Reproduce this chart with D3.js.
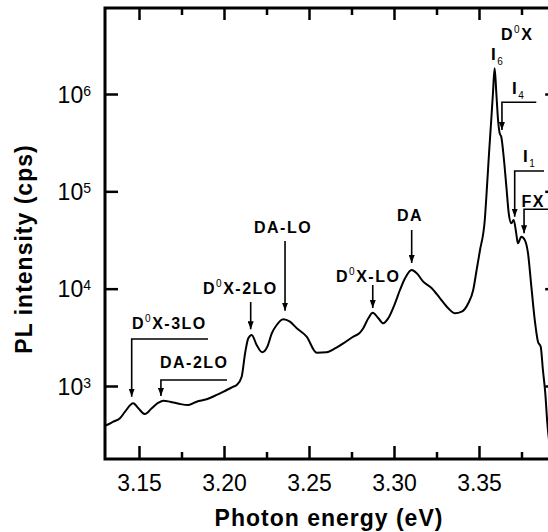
<!DOCTYPE html>
<html>
<head>
<meta charset="utf-8">
<script src="https://cdnjs.cloudflare.com/ajax/libs/d3/7.8.5/d3.min.js"></script>
<style>
  body { margin: 0; background: #fff; }
  svg { display: block; font-family: "Liberation Sans", Arial, sans-serif; }
  .tick text { font-size: 23px; fill: #000; }
  .anno { font-size: 16px; font-weight: bold; letter-spacing: 1.5px; }
</style>
</head>
<body>
<div id="chart"></div>
<script>
// spectrum: photon energy (eV) and PL intensity (cps)
var energy = [3.1300, 3.1310, 3.1349, 3.1388, 3.1418, 3.1466, 3.1496, 3.1535, 3.1575, 3.1614,
  3.1643, 3.1682, 3.1741, 3.1790, 3.1839, 3.1898, 3.1957, 3.2016, 3.2055, 3.2075,
  3.2104, 3.2124, 3.2143, 3.2163, 3.2192, 3.2225, 3.2255, 3.2281, 3.2310, 3.2349,
  3.2388, 3.2428, 3.2486, 3.2545, 3.2604, 3.2643, 3.2702, 3.2761, 3.2800, 3.2819,
  3.2849, 3.2875, 3.2908, 3.2937, 3.2966, 3.3006, 3.3035, 3.3065, 3.3104, 3.3134,
  3.3172, 3.3222, 3.3271, 3.3319, 3.3359, 3.3398, 3.3437, 3.3466, 3.3486, 3.3506,
  3.3534, 3.3547, 3.3559, 3.3572, 3.3582, 3.3592, 3.3602, 3.3612, 3.3622, 3.3631,
  3.3647, 3.3661, 3.3675, 3.3690, 3.3704, 3.3719, 3.3729, 3.3749, 3.3769, 3.3788,
  3.3808, 3.3828, 3.3847, 3.3863, 3.3876, 3.3890, 3.3902, 3.3925];
var intensity = [391, 397, 430, 466, 545, 664, 590, 515, 590, 673,
  706, 690, 653, 638, 690, 730, 809, 910, 984, 1024,
  1247, 2167, 3092, 3343, 2639, 2220, 2535, 3475, 4236, 4842,
  4578, 3918, 3215, 2198, 2220, 2383, 2746, 3215, 3533, 3918,
  4963, 5668, 4963, 4404, 4963, 7079, 9690, 12790, 15560, 14390,
  11800, 10090, 7960, 6290, 5580, 5800, 7079, 9690, 15560, 24950,
  50800, 111700, 246000, 541000, 1017000, 1836000, 1017000, 541000, 394000, 364000,
  210000, 111700, 59400, 46900, 50800, 37000, 29200, 34200, 31700, 23300,
  10470, 4765, 2850, 2535, 1460, 841, 414, 190];

var xMajor = [3.15, 3.20, 3.25, 3.30, 3.35];
var xMinor = [3.175, 3.225, 3.275, 3.325, 3.375];
var yTicks = [1e3, 1e4, 1e5, 1e6];

// annotated features: label, energy of the arrow, intensity at arrow tip
var annoLabel = ["D0X-3LO", "DA-2LO", "D0X-2LO", "DA-LO", "D0X-LO", "DA", "I4", "I1", "FX"];
var annoEnergy = [3.1457, 3.1629, 3.2157, 3.2359, 3.2875, 3.3104, 3.3635, 3.3710, 3.3765];
var annoTip = [776, 789, 3823, 5937, 6324, 18350, 426600, 54800, 37060];

var svgWidth = 548, svgHeight = 532;
var plotLeft = 105, plotRight = 557.2, plotTop = 8, plotBottom = 459;

var svg = d3.select("#chart").append("svg")
    .attr("width", svgWidth)
    .attr("height", svgHeight);

var x = d3.scaleLinear().domain([3.13, 3.396]).range([plotLeft, plotRight]);
var y = d3.scaleLog().domain([177.8, 7.65e6]).range([plotBottom, plotTop]);

var defs = svg.append("defs");
defs.append("marker")
    .attr("id", "arrow")
    .attr("markerUnits", "userSpaceOnUse")
    .attr("viewBox", "0 -3 8 6")
    .attr("markerWidth", 8).attr("markerHeight", 6)
    .attr("refX", 8).attr("refY", 0)
    .attr("orient", "auto")
    .append("path").attr("d", "M0,-3L8,0L0,3Z").attr("fill", "#000");

defs.append("clipPath").attr("id", "plot")
    .append("rect").attr("x", plotLeft).attr("y", plotTop)
    .attr("width", plotRight - plotLeft).attr("height", plotBottom - plotTop);

// axes, ticks pointing inward
function styleAxis(g) {
    g.select(".domain").remove();
    g.selectAll(".tick line").attr("stroke", "#000").attr("stroke-width", 2.5);
}

svg.append("g").attr("transform", `translate(0,${plotBottom})`)
    .call(d3.axisBottom(x).tickValues(xMajor).tickSize(-13).tickPadding(16).tickFormat(d3.format(".2f")))
    .call(styleAxis)
    .selectAll("text").attr("fill", "#000");
svg.append("g").attr("transform", `translate(0,${plotBottom})`)
    .call(d3.axisBottom(x).tickValues(xMinor).tickSize(-7).tickFormat(""))
    .call(styleAxis);
svg.append("g").attr("transform", `translate(0,${plotTop})`)
    .call(d3.axisTop(x).tickValues(xMajor).tickSize(-12).tickFormat(""))
    .call(styleAxis);
svg.append("g").attr("transform", `translate(0,${plotTop})`)
    .call(d3.axisTop(x).tickValues(xMinor).tickSize(-7).tickFormat(""))
    .call(styleAxis);

var yAxis = svg.append("g").attr("transform", `translate(${plotLeft},0)`)
    .call(d3.axisLeft(y).tickValues(yTicks).tickSize(-13).tickPadding(14).tickFormat(""))
    .call(styleAxis);
yAxis.selectAll(".tick text")
    .attr("fill", "#000")
    .attr("dy", "0.36em")
    .each(function(d) {
        var t = d3.select(this);
        t.append("tspan").text("10");
        t.append("tspan").attr("dy", -7).attr("font-size", 14).text(Math.round(Math.log10(d)));
    });
svg.append("g").attr("transform", `translate(${plotRight},0)`)
    .call(d3.axisRight(y).tickValues(yTicks).tickSize(-12).tickFormat(""))
    .call(styleAxis);

svg.append("rect")
    .attr("x", plotLeft).attr("y", plotTop)
    .attr("width", plotRight - plotLeft).attr("height", plotBottom - plotTop)
    .attr("fill", "none").attr("stroke", "#000").attr("stroke-width", 3);

// spectrum
var line = d3.line()
    .x(function(d, i) { return x(energy[i]); })
    .y(function(d) { return y(d); })
    .curve(d3.curveMonotoneX);

svg.append("path")
    .datum(intensity)
    .attr("clip-path", "url(#plot)")
    .attr("fill", "none")
    .attr("stroke", "#000")
    .attr("stroke-width", 2)
    .attr("d", line);

// axis titles
svg.append("text")
    .attr("x", 329).attr("y", 526)
    .attr("text-anchor", "middle")
    .attr("font-size", 23).attr("font-weight", "bold")
    .attr("letter-spacing", 1)
    .text("Photon energy (eV)");

svg.append("text")
    .attr("transform", "translate(32,249) rotate(-90)")
    .attr("text-anchor", "middle")
    .attr("font-size", 23).attr("font-weight", "bold")
    .attr("letter-spacing", 1)
    .text("PL intensity (cps)");

// labels: "D0X" -> D with superscript 0, "I4" -> I with subscript 4
function label(txt, lx, ly, size) {
    var t = svg.append("text").attr("class", "anno").attr("x", lx).attr("y", ly);
    if (size) t.style("font-size", size + "px");
    if (txt.indexOf("D0X") === 0) {
        t.append("tspan").text("D");
        t.append("tspan").attr("dy", -7).style("font-size", "10px").style("font-weight", "normal").text("0");
        t.append("tspan").attr("dy", 7).text(txt.slice(2));
    } else if (txt[0] === "I") {
        t.append("tspan").text("I");
        t.append("tspan").attr("dy", 5).style("font-size", "10px").style("font-weight", "normal").text(txt.slice(1));
    } else {
        t.text(txt);
    }
}

// pixel layout of each annotation: text position, arrow start or bracket
var layout = {
    "D0X-3LO": { tx: 132, ty: 329, by: 339, bx2: 208 },
    "DA-2LO":  { tx: 160, ty: 368, by: 380, bx2: 227 },
    "D0X-2LO": { tx: 203, ty: 294, ay: 302 },
    "DA-LO":   { tx: 254, ty: 233, ay: 241 },
    "D0X-LO":  { tx: 336, ty: 281.5, ay: 285 },
    "DA":      { tx: 397, ty: 220.5, ay: 230 },
    "I4":      { tx: 512, ty: 94, by: 102.3, bx2: 536.3, size: 17 },
    "I1":      { tx: 523, ty: 161.5, by: 171, bx2: 544, size: 17 },
    "FX":      { tx: 521.5, ty: 206.5, by: 209.3, bx2: 560 }
};

annoLabel.forEach(function(name, i) {
    var L = layout[name];
    var ax = x(annoEnergy[i]), tip = y(annoTip[i]);
    label(name, L.tx, L.ty, L.size);
    var d = L.by !== undefined
        ? `M${L.bx2},${L.by}H${ax}V${tip}`
        : `M${ax},${L.ay}V${tip}`;
    svg.append("path")
        .attr("d", d)
        .attr("fill", "none")
        .attr("stroke", "#000")
        .attr("stroke-width", 1.6)
        .attr("marker-end", "url(#arrow)");
});

label("D0X", 501, 40);
label("I6", 491, 60, 17);
</script>
</body>
</html>
